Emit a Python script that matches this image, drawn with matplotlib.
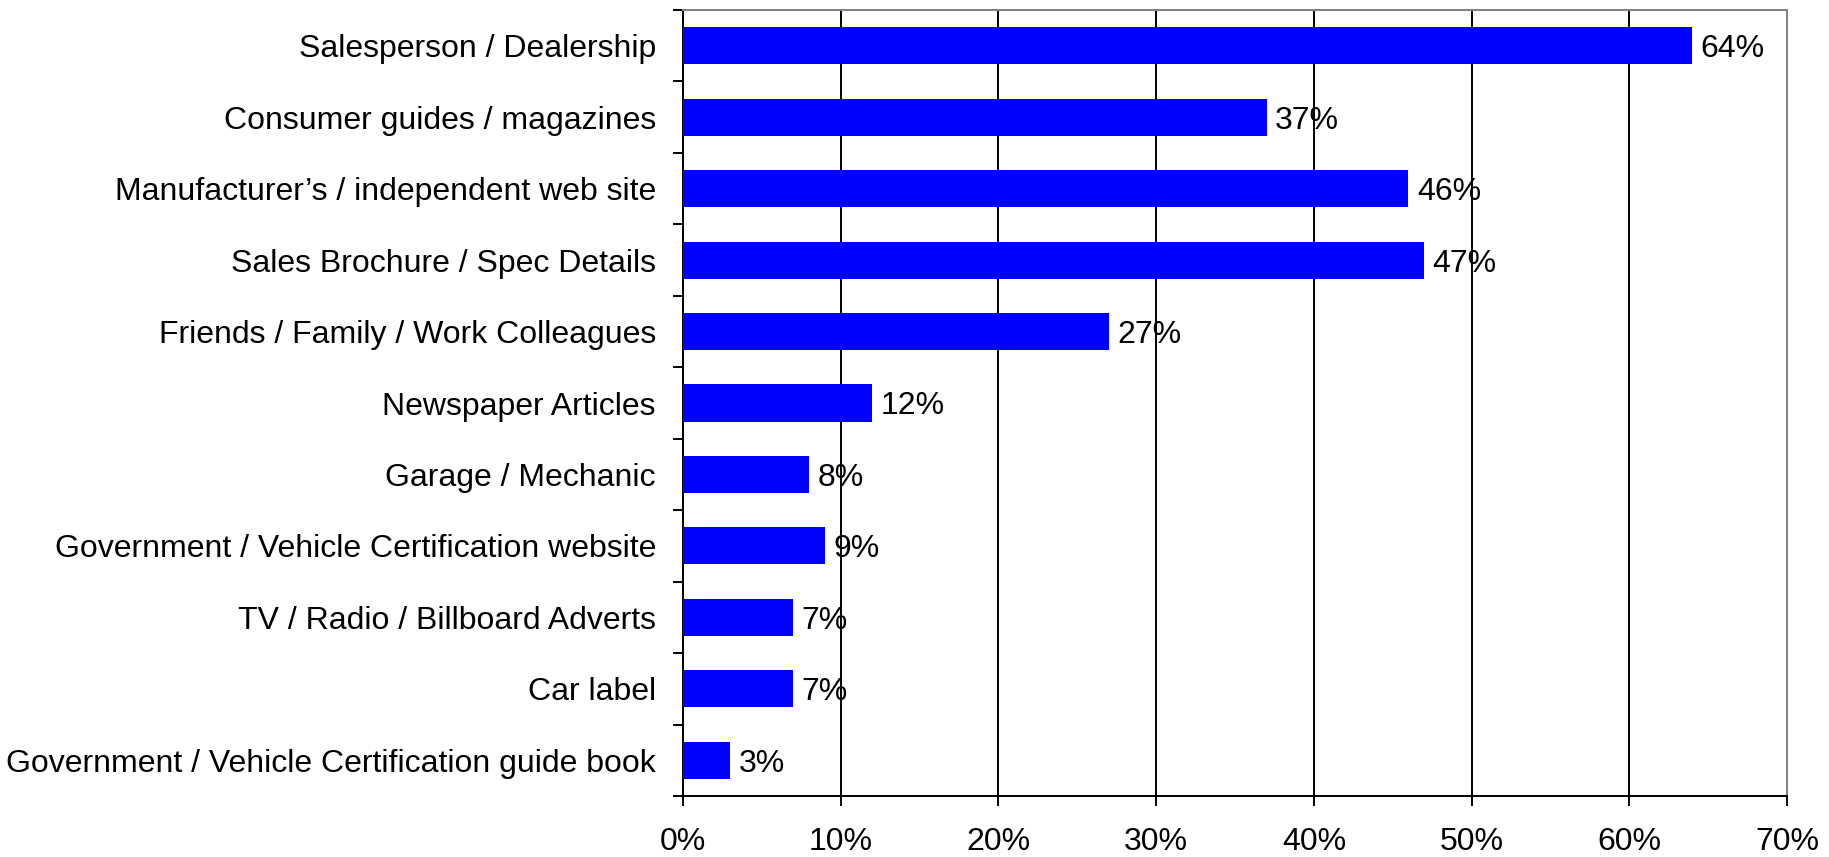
import matplotlib.pyplot as plt
import numpy as np
from matplotlib.ticker import FuncFormatter

plt.rcParams['font.family'] = ['Liberation Sans', 'DejaVu Sans']

sources = [
    "Salesperson / Dealership",
    "Consumer guides / magazines",
    "Manufacturer\u2019s / independent web site",
    "Sales Brochure / Spec Details",
    "Friends / Family / Work Colleagues",
    "Newspaper Articles",
    "Garage / Mechanic",
    "Government / Vehicle Certification website",
    "TV / Radio / Billboard Adverts",
    "Car label",
    "Government / Vehicle Certification guide book",
]
shares = [64, 37, 46, 47, 27, 12, 8, 9, 7, 7, 3]
x_ticks = [0, 10, 20, 30, 40, 50, 60, 70]

FS = 23

fig = plt.figure(figsize=(18.29, 8.57), dpi=100)
ax = fig.add_axes([683 / 1829, 61 / 857, 1104 / 1829, 786 / 857])

n = len(sources)
ypos = np.arange(n)
ax.barh(ypos, shares, height=0.52, color='#0000FF', zorder=3)

for y, v in zip(ypos, shares):
    ax.annotate(f"{v}%", (v, y), xytext=(6, 0), textcoords='offset points',
                va='center_baseline', ha='left', fontsize=FS, zorder=4)

ax.set_xlim(0, 70)
ax.set_ylim(n - 0.5, -0.5)
ax.set_xticks(x_ticks)
ax.xaxis.set_major_formatter(FuncFormatter(lambda v, p: f"{v:.0f}%"))
ax.tick_params(axis='x', labelsize=FS, length=7.5, width=1.4, pad=15, direction='out')

# boundary ticks on the category axis, labels sit on minor ticks at bar centres
ax.set_yticks(np.arange(n + 1) - 0.5)
ax.set_yticklabels([])
ax.tick_params(axis='y', which='major', length=7.5, width=1.4, direction='out')
ax.set_yticks(ypos, sources, minor=True)
ax.tick_params(axis='y', which='minor', length=0, labelsize=FS, pad=19.5)

ax.grid(axis='x', color='black', linewidth=1.4, zorder=0)
for side in ['left', 'bottom']:
    ax.spines[side].set_color('black')
    ax.spines[side].set_linewidth(1.4)
for side in ['top', 'right']:
    ax.spines[side].set_color('#808080')
    ax.spines[side].set_linewidth(1.4)

fig.savefig('out.png', dpi=100)
